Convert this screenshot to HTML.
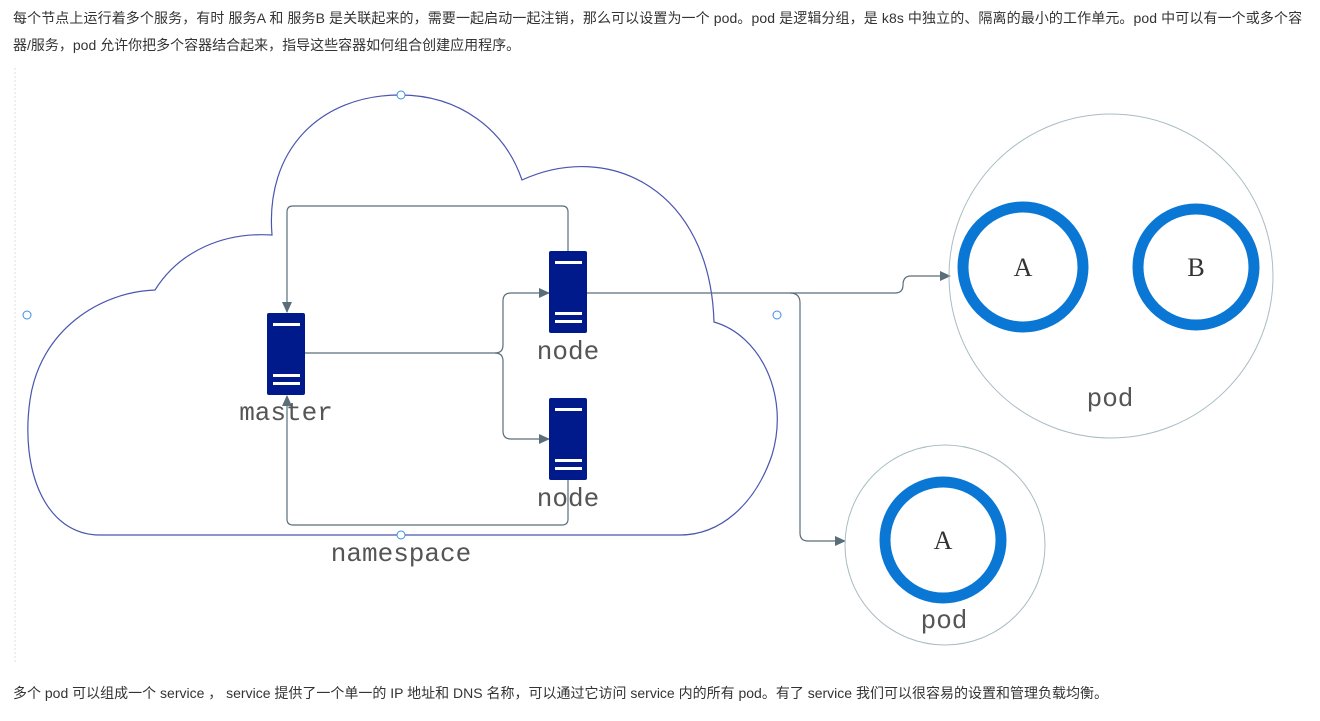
<!DOCTYPE html>
<html><head><meta charset="utf-8"><style>
body{margin:0;width:1320px;height:721px;background:#fff;overflow:hidden;position:relative;font-family:"Liberation Sans","Noto Sans CJK SC",sans-serif;color:#333;font-size:14px}
.t{position:absolute;left:13px;white-space:nowrap}
</style></head><body>
<div class="t" style="top:8px;letter-spacing:0.1px">每个节点上运行着多个服务，有时 服务A 和 服务B 是关联起来的，需要一起启动一起注销，那么可以设置为一个 pod。pod 是逻辑分组，是 k8s 中独立的、隔离的最小的工作单元。pod 中可以有一个或多个容</div>
<div class="t" style="top:35px">器/服务，pod 允许你把多个容器结合起来，指导这些容器如何组合创建应用程序。</div>
<div class="t" style="top:683px">多个 pod 可以组成一个 service ， service 提供了一个单一的 IP 地址和 DNS 名称，可以通过它访问 service 内的所有 pod。有了 service 我们可以很容易的设置和管理负载均衡。</div>
<svg width="1320" height="721" style="position:absolute;left:0;top:0" font-family="Liberation Mono,monospace">
<defs><marker id="a" markerWidth="12" markerHeight="12" refX="10" refY="6" orient="auto" markerUnits="userSpaceOnUse"><path d="M0,1 L11,6 L0,11 Z" fill="#5a6e7a"/></marker></defs>
<line x1="15" y1="68" x2="15" y2="662" stroke="#ddd" stroke-dasharray="2,2"/>
<path d="M100 535 C45 535 20 470 30 400 C40 330 100 292 155 290 C180 250 225 232 272 235 C265 150 320 95 400 95 C460 95 505 130 522 180 C610 140 710 190 714 322 C760 335 790 395 772 455 C755 505 720 535 680 535 Z" fill="none" stroke="#4a55b0" stroke-width="1.2"/>
<g fill="#fff" stroke="#3a8ee6"><circle cx="401" cy="95" r="4"/><circle cx="27" cy="315" r="4"/><circle cx="777" cy="315" r="4"/><circle cx="401" cy="535" r="4"/></g>
<g fill="none" stroke="#5a6e7a" stroke-width="1.2">
<path d="M568 251 V212 Q568 206 562 206 H293 Q287 206 287 212 V312" marker-end="url(#a)"/>
<path d="M568 480 V519 Q568 525 562 525 H293 Q287 525 287 519 V396" marker-end="url(#a)"/>
<path d="M305 353 H495 Q503 353 503 345 V301 Q503 293 511 293 H549" marker-end="url(#a)"/>
<path d="M495 353 Q503 353 503 361 V431 Q503 439 511 439 H549" marker-end="url(#a)"/>
<path d="M587 293 H895 Q903 293 903 285 Q903 276 911 276 H950" marker-end="url(#a)"/>
<path d="M790 293 Q800 293 800 303 V533 Q800 541 808 541 H845" marker-end="url(#a)"/>
</g>
<g fill="#001a8c">
<rect x="267" y="313" width="38" height="82" rx="2"/><rect x="549" y="251" width="38" height="82" rx="2"/><rect x="549" y="398" width="38" height="82" rx="2"/></g>
<g fill="#fff">
<rect x="273" y="323" width="27" height="3"/><rect x="273" y="374" width="27" height="3"/><rect x="273" y="382" width="27" height="3"/>
<rect x="555" y="261" width="27" height="3"/><rect x="555" y="312" width="27" height="3"/><rect x="555" y="320" width="27" height="3"/>
<rect x="555" y="408" width="27" height="3"/><rect x="555" y="459" width="27" height="3"/><rect x="555" y="467" width="27" height="3"/></g>
<g fill="#555" font-size="26" text-anchor="middle">
<text x="286" y="420">master</text><text x="568" y="359">node</text><text x="568" y="506">node</text><text x="401" y="561">namespace</text>
<text x="1110" y="406">pod</text><text x="944" y="628">pod</text></g>
<circle cx="1111" cy="276" r="162" fill="none" stroke="#a9bcc4"/>
<circle cx="945" cy="545" r="100" fill="none" stroke="#a9bcc4"/>
<g fill="none" stroke="#0a77d5" stroke-width="11"><circle cx="1023" cy="267" r="60"/><circle cx="1196" cy="267" r="58"/><circle cx="943" cy="540" r="58"/></g>
<g fill="#333" font-size="26" text-anchor="middle" font-family="Liberation Serif,serif"><text x="1023" y="276">A</text><text x="1196" y="276">B</text><text x="943" y="549">A</text></g>
</svg>
</body></html>
